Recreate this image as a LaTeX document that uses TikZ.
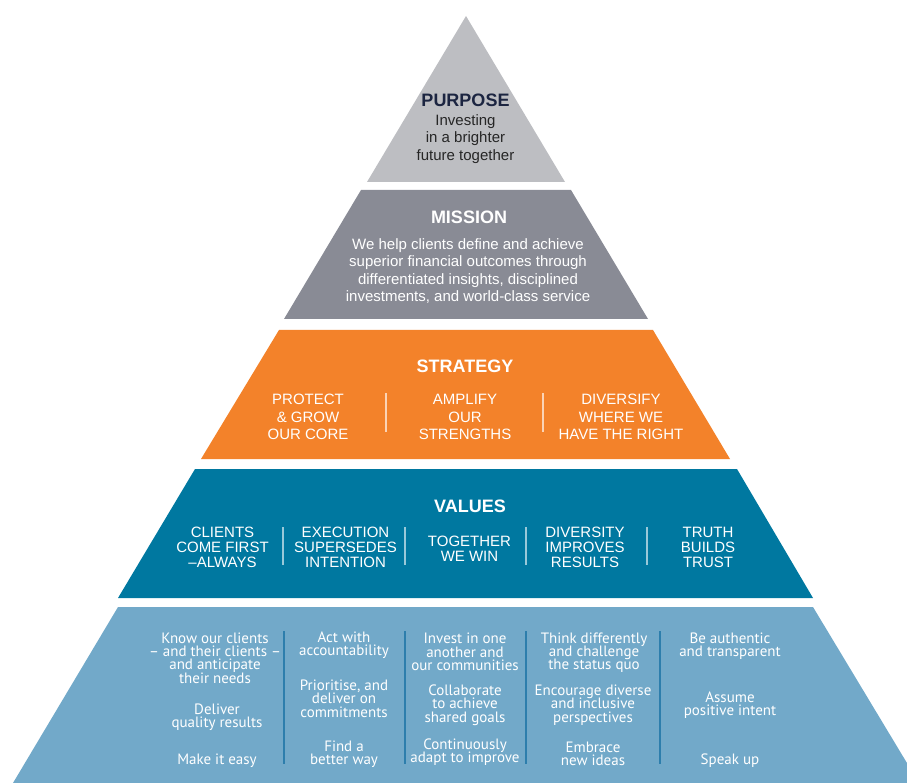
\documentclass[tikz,border=0pt]{standalone}
\usepackage{fontspec}
\setmainfont{Liberation Sans}
\newfontfamily\ptsans{PT Sans}
\definecolor{purposegray}{HTML}{BDBEC2}
\definecolor{missiongray}{HTML}{898B95}
\definecolor{strategyorange}{HTML}{F3822A}
\definecolor{valuesteal}{HTML}{0078A0}
\definecolor{behavblue}{HTML}{72A9C9}
\definecolor{navy}{HTML}{1C2541}
\definecolor{rulecol}{HTML}{2D7EAC}

\begin{document}
\begin{tikzpicture}[x=1pt, y=-1pt, every node/.style = 
     {inner sep = 0pt, outer sep = 0pt, align = center},
     head/.style = {font=\bfseries\fontsize{18}{20}\selectfont},
     txt/.style = {font=\fontsize{15}{17.4}\selectfont},
     vtxt/.style = {font={\fontsize{15}{15.3}\selectfont\setlength\lineskiplimit{-100pt}},
                    text=white},
     btxt/.style = {font={\ptsans\fontsize{15}{13.3}\selectfont\setlength\lineskiplimit{-100pt}},
                    text=white},
     divider/.style = {line width=1.5pt}]
        \useasboundingbox (0,0) rectangle (907,783);
        % layers
        \fill [purposegray] (466,16) -- (565,182) -- (367,182) -- cycle;
        \fill [missiongray] (361,190) -- (571,190) -- (648,319) -- (284,319) -- cycle;
        \fill [strategyorange] (279,330) -- (653,330) -- (730,459) -- (201,459) -- cycle;
        \fill [valuesteal] (195,469) -- (737,469) -- (813,598) -- (118,598) -- cycle;
        \fill [behavblue] (118,607) -- (813,607) -- (919,783) -- (13,783) -- cycle;
        % purpose
        \node [head, text=navy] 
            at (465.5,100) (P) {PURPOSE};
        \node [txt, text=black!85] 
            at (465.5,139) (Ptxt) {Investing\\in a brighter\\future together};
        % mission
        \node [head, text=white] 
            at (469,217) (M) {MISSION};
        \node [txt, text=white] 
            at (468,271) (Mtxt) {We help clients define and achieve\\superior financial outcomes through\\differentiated insights, disciplined\\investments, and world-class service};
        % strategy
        \node [head, text=white] 
            at (465,366) (S) {STRATEGY};
        \node [txt, text=white] 
            at (308,417) (S1) {PROTECT\\\& GROW\\OUR CORE};
        \node [txt, text=white] 
            at (465,417) (S2) {AMPLIFY\\OUR\\STRENGTHS};
        \node [txt, text=white] 
            at (621,417) (S3) {DIVERSIFY\\WHERE WE\\HAVE THE RIGHT};
        \draw [divider, white!65!strategyorange] (386,393) -- (386,432);
        \draw [divider, white!65!strategyorange] (543,393) -- (543,432);
        % values
        \node [head, text=white] 
            at (470,506) (V) {VALUES};
        \node [vtxt] at (222.5,547.3) (V1) {CLIENTS\\COME FIRST\\–ALWAYS};
        \node [vtxt] at (345.5,547.3) (V2) {EXECUTION\\SUPERSEDES\\INTENTION};
        \node [vtxt] at (469.5,548.5) (V3) {TOGETHER\\WE WIN};
        \node [vtxt] at (585,547.3) (V4) {DIVERSITY\\IMPROVES\\RESULTS};
        \node [vtxt] at (708,547.3) (V5) {TRUTH\\BUILDS\\TRUST};
        \draw [divider, white!60!valuesteal] (283,527) -- (283,565);
        \draw [divider, white!60!valuesteal] (405,527) -- (405,565);
        \draw [divider, white!60!valuesteal] (526,527) -- (526,565);
        \draw [divider, white!60!valuesteal] (647,527) -- (647,565);
        % behaviours
        \node [btxt] at (215,658) (B11) {Know our clients\\– and their clients –\\and anticipate\\their needs};
        \node [btxt] at (217,717.5) (B12) {Deliver\\quality results};
        \node [btxt] at (217,761) (B13) {Make it easy};
        \node [btxt] at (344,645.5) (B21) {Act with\\accountability};
        \node [btxt] at (344,698.5) (B22) {Prioritise, and\\deliver on\\commitments};
        \node [btxt] at (344,754.5) (B23) {Find a\\better way};
        \node [btxt] at (465,652) (B31) {Invest in one\\another and\\our communities};
        \node [btxt] at (465,705) (B32) {Collaborate\\to achieve\\shared goals};
        \node [btxt] at (465,752.5) (B33) {Continuously\\adapt to improve};
        \node [btxt] at (594,652.5) (B41) {Think differently\\and challenge\\the status quo};
        \node [btxt] at (593,705) (B42) {Encourage diverse\\and inclusive\\perspectives};
        \node [btxt] at (593,754) (B43) {Embrace\\new ideas};
        \node [btxt] at (730,646) (B51) {Be authentic\\and transparent};
        \node [btxt] at (730,705.5) (B52) {Assume\\positive intent};
        \node [btxt] at (730,761) (B53) {Speak up};
        \draw [divider, rulecol] (284,631) -- (284,764);
        \draw [divider, rulecol] (405,631) -- (405,764);
        \draw [divider, rulecol] (526,631) -- (526,764);
        \draw [divider, rulecol] (660,631) -- (660,764);
\end{tikzpicture}
\end{document}
